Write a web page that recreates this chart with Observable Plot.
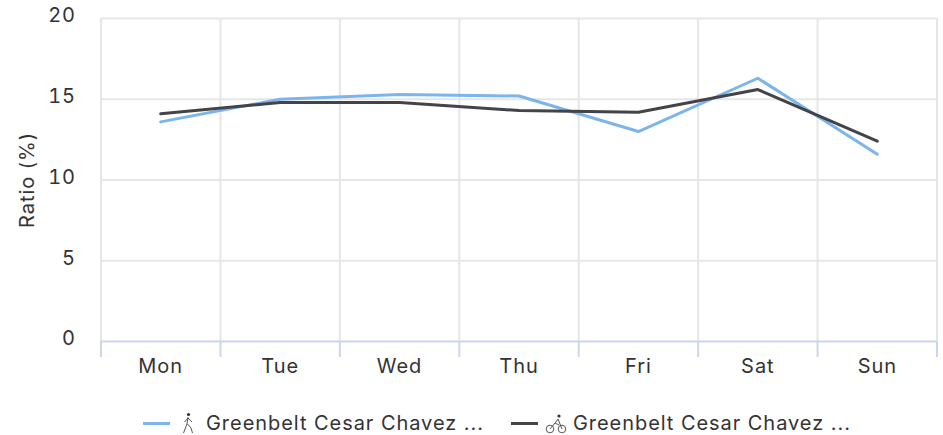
<!DOCTYPE html>
<html>
<head>
<meta charset="utf-8">
<script src="https://cdn.jsdelivr.net/npm/d3@7"></script>
<script src="https://cdn.jsdelivr.net/npm/@observablehq/plot@0.6"></script>
<style>
  html,body{margin:0;padding:0;background:#fff;overflow:hidden;}
  #chart svg{display:block;}
  #legend{display:flex;justify-content:flex-start;align-items:center;height:40px;margin-top:8px;padding-left:143px;font:20px "Inter",sans-serif;letter-spacing:.95px;color:#333;box-sizing:border-box;width:943px;}
  .item{display:flex;align-items:center;white-space:nowrap;}
  .item + .item{margin-left:27px;}
  .swatch{display:inline-block;width:27px;height:3px;}
</style>
</head>
<body>
<div id="chart"></div>
<div id="legend"></div>
<script>
const days = ["Mon","Tue","Wed","Thu","Fri","Sat","Sun"];
const walking = [13.6,15.0,15.3,15.2,13.0,16.3,11.6];
const cycling = [14.1,14.8,14.8,14.3,14.2,15.6,12.4];
const seriesNames = ["Greenbelt Cesar Chavez ...","Greenbelt Cesar Chavez ..."];
const colors = ["#7cb5ec","#434348"];
const yTicks = [0,5,10,15,20];

const idx = days.map((d,i)=>i);
const edges = d3.range(days.length+1).map(i=>i-0.5);
const toRows = vals => vals.map((v,i)=>({x:i,y:v}));

const plot = Plot.plot({
  width:943,height:395,
  marginLeft:100.5,marginRight:6.5,marginTop:18,marginBottom:54,
  style:{fontFamily:"Inter,sans-serif",fontSize:"20px",letterSpacing:"0.95px",color:"#333",background:"#fff"},
  x:{type:"linear",domain:[-0.5,6.5],label:null},
  y:{domain:[0,20],label:null},
  marks:[
    Plot.ruleY(yTicks.filter(d=>d>0),{stroke:"#e6e6e6",strokeWidth:2}),
    Plot.ruleX(edges,{stroke:"#e6e6e6",strokeWidth:2}),
    Plot.ruleY([0],{stroke:"#ccd6eb",strokeWidth:2}),
    Plot.axisX(edges,{tickSize:16,stroke:"#ccd6eb",strokeWidth:2,tickFormat:()=>""}),
    Plot.axisX(idx,{tickSize:0,tickPadding:17,tickFormat:i=>days[i],fill:"#333",fontSize:20,stroke:null}),
    Plot.axisY(yTicks,{tickSize:0,tickPadding:25,dy:-2.5,fill:"#333",fontSize:20,label:null,tickFormat:d=>String(d)}),
    Plot.text(["Ratio (%)"],{frameAnchor:"left",textAnchor:"middle",dx:-73,rotate:-90,fill:"#333",fontSize:20}),
    Plot.line(toRows(walking),{x:"x",y:"y",stroke:colors[0],strokeWidth:3}),
    Plot.line(toRows(cycling),{x:"x",y:"y",stroke:colors[1],strokeWidth:3})
  ]
});
document.getElementById("chart").appendChild(plot);

const icons = [
 '<svg style="margin:0 12px 0 12px" width="12" height="24" viewBox="0 0 12 24" fill="none" stroke="#444" stroke-width="0.9"><circle cx="6.5" cy="3.5" r="1.6" fill="#333" stroke="none"/><path d="M6 6 L5 13 L1.5 22 M5.5 13 L9 17 L10.5 22 M6 7 L2.5 11 M6 7 L10 11"/></svg>',
 '<svg style="margin:0 6px 0 7px" width="22" height="24" viewBox="0 0 22 24" fill="none" stroke="#444" stroke-width="0.9"><circle cx="14" cy="5" r="1.6" fill="#333" stroke="none"/><circle cx="5" cy="18" r="3.8"/><circle cx="17" cy="18" r="3.8"/><path d="M5 18 L10 12 L13 8 L17 18 M10 12 L14 14"/></svg>'
];
const legend = document.getElementById("legend");
seriesNames.forEach((name,i)=>{
  const item = document.createElement("span");
  item.className = "item";
  item.innerHTML = `<span class="swatch" style="background:${colors[i]}"></span>${icons[i]}<span>${name}</span>`;
  legend.appendChild(item);
});
</script>
</body>
</html>
